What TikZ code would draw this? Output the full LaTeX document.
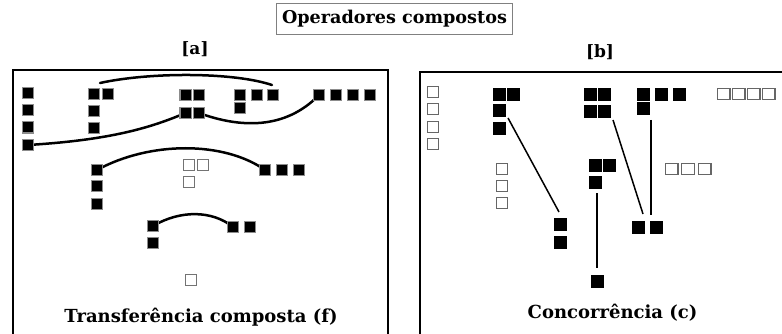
\documentclass[tikz,border=0pt]{standalone}
\usepackage{fontspec}
\setmainfont{DejaVu Serif}
\usetikzlibrary{backgrounds}
\begin{document}
\begin{tikzpicture}[x=1pt,y=-1pt,
  fsq/.style={draw=black!45,fill=black,line width=1.3pt,minimum size=11.3pt,inner sep=0pt},
  esq/.style={draw=black!55,fill=white,line width=1.3pt,minimum size=11.3pt,inner sep=0pt},
  bsq/.style={draw=black,fill=black,line width=0.6pt,minimum size=12.2pt,inner sep=0pt},
  wsq/.style={draw=black!60,fill=white,line width=1.2pt,minimum size=10.5pt,inner sep=0pt},
  wrect/.style={wsq,minimum width=12.8pt,minimum height=11pt},
  link/.style={line width=2.5pt,line cap=round},
  tie/.style={line width=1.5pt},
  frame/.style={draw=black,line width=2.6pt},
  lbl/.style={font=\bfseries\fontsize{18}{21}\selectfont,inner sep=0pt}
]
\useasboundingbox (0,0) rectangle (782,334);
\clip (0,0) rectangle (782,334);

% title and panel headers
\node[lbl,font=\bfseries\fontsize{17.6}{20}\selectfont,draw=black!50,line width=0.9pt,minimum width=236pt,minimum height=31pt] (title) at (394.5,19) {Operadores compostos};
\node[lbl,font=\bfseries\fontsize{17}{19}\selectfont] (ha) at (195,49) {[a]};
\node[lbl,font=\bfseries\fontsize{17}{19}\selectfont] (hb) at (600,52) {[b]};

% panel frames
\draw[frame] (13,70) rectangle (388,350);
\draw[frame] (420,72) rectangle (800,350);

% ---------- panel (a): composed transfer ----------
\node[fsq] (a1) at (28,93) {};
\node[fsq] (a2) at (28,110) {};
\node[fsq] (a3) at (28,127.5) {};
\node[fsq] (a4) at (28,145) {};

\node[fsq] (b1) at (94,94) {};
\node[fsq] (b2) at (108,94) {};
\node[fsq] (b3) at (94,111) {};
\node[fsq] (b4) at (94,128) {};

\node[fsq] (q1) at (185.5,95) {};
\node[fsq] (q2) at (199,95) {};
\node[fsq] (q3) at (185.5,113) {};
\node[fsq] (q4) at (199,113) {};

\node[fsq] (l1) at (240,95) {};
\node[fsq] (l2) at (257,95) {};
\node[fsq] (l3) at (273,95) {};
\node[fsq] (l4) at (240,108) {};

\node[fsq] (r1) at (319,95) {};
\node[fsq] (r2) at (336,95) {};
\node[fsq] (r3) at (353,95) {};
\node[fsq] (r4) at (370,95) {};

\node[fsq] (m1) at (97,170) {};
\node[fsq] (m2) at (97,186) {};
\node[fsq] (m3) at (97,204) {};

\node[esq] (e1) at (189,165) {};
\node[esq] (e2) at (203,165) {};
\node[esq] (e3) at (189,182) {};

\node[fsq] (t1) at (265,170) {};
\node[fsq] (t2) at (282,170) {};
\node[fsq] (t3) at (299,170) {};

\node[fsq] (k1) at (153,226) {};
\node[fsq] (k2) at (153,243) {};

\node[fsq] (w1) at (233,227) {};
\node[fsq] (w2) at (250,227) {};

\node[esq] (s1) at (191,280) {};

\node[lbl] (capa) at (201,317) {Transferência composta (f)};

\coordinate (arcA) at (100,83);
\coordinate (arcB) at (272,85);

% ---------- panel (b): concurrency ----------
\node[wsq] (c1) at (433,92) {};
\node[wsq] (c2) at (433,109) {};
\node[wsq] (c3) at (433,127) {};
\node[wsq] (c4) at (433,144) {};

\node[bsq] (d1) at (499,94) {};
\node[bsq] (d2) at (513,94) {};
\node[bsq] (d3) at (499,110) {};
\node[bsq] (d4) at (499,128) {};

\node[bsq] (g1) at (590,94) {};
\node[bsq] (g2) at (604,94) {};
\node[bsq] (g3) at (590,111) {};
\node[bsq] (g4) at (604,111) {};

\node[bsq] (h1) at (643,94) {};
\node[bsq] (h2) at (661,94) {};
\node[bsq] (h3) at (679,94) {};
\node[bsq] (h4) at (643,108) {};

\node[wrect] (u1) at (723.5,94) {};
\node[wrect] (u2) at (738.5,94) {};
\node[wrect] (u3) at (753.5,94) {};
\node[wrect] (u4) at (768.5,94) {};

\node[wsq,minimum size=11.5pt] (v1) at (502,169) {};
\node[wsq,minimum size=11.5pt] (v2) at (502,186) {};
\node[wsq,minimum size=11.5pt] (v3) at (502,203) {};

\node[bsq] (n1) at (595,165) {};
\node[bsq] (n2) at (609,165) {};
\node[bsq] (n3) at (595,182) {};

\node[wrect] (o1) at (671.5,169) {};
\node[wrect] (o2) at (688,169) {};
\node[wrect] (o3) at (704.5,169) {};

\node[bsq] (z1) at (560,224.5) {};
\node[bsq] (z2) at (560,242.5) {};

\node[bsq] (y1) at (638.5,227.5) {};
\node[bsq] (y2) at (656.5,227.5) {};

\node[bsq] (x1) at (597,281) {};

\node[lbl] (capb) at (612.5,313) {Concorrência (c)};

\coordinate (p1) at (508,118);
\coordinate (p2) at (559,212);
\coordinate (p3) at (613,120);
\coordinate (p4) at (643,214);
\coordinate (p5) at (651,120);
\coordinate (p6) at (651,215);
\coordinate (p7) at (597,193);
\coordinate (p8) at (597,268);

% connectors drawn beneath the squares
\begin{scope}[on background layer]
  \draw[link] (arcA) .. controls (150,72) and (233,72) .. (arcB);
  \draw[link] (a4.center) .. controls (110,140) and (150,128) .. (q3.center);
  \draw[link] (q4.center) .. controls (240,128) and (285,130) .. (r1.center);
  \draw[link] (m1.center) .. controls (150,141) and (224,141) .. (t1.center);
  \draw[link] (k1.center) .. controls (180,210) and (212,210) .. (w1.center);

  \draw[tie] (p1) -- (p2);
  \draw[tie] (p3) -- (p4);
  \draw[tie] (p5) -- (p6);
  \draw[tie] (p7) -- (p8);
\end{scope}
\end{tikzpicture}
\end{document}
